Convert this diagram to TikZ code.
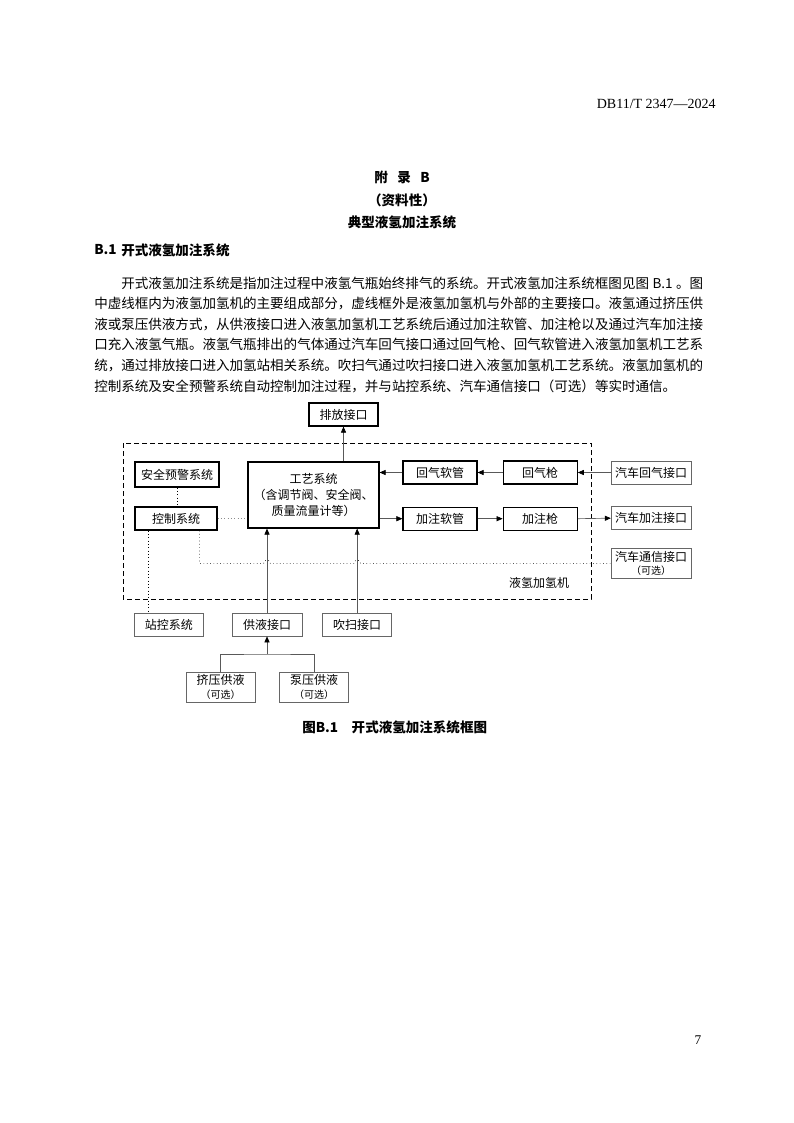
\documentclass[tikz,border=0pt]{standalone}
\usepackage{fontspec}
\setmainfont{Liberation Serif}
\newfontfamily\cjk{Noto Sans CJK SC}
\usetikzlibrary{arrows.meta,positioning}

\newcommand{\bodyfont}{\cjk\fontsize{10.15pt}{12pt}\selectfont}
\newcommand{\boxfont}{\cjk\fontsize{9pt}{12pt}\selectfont}
\newcommand{\optfont}{\cjk\fontsize{7.5pt}{9pt}\selectfont}

\begin{document}
\begin{tikzpicture}[x=0.75pt, y=-0.75pt,
  box/.style={draw, line width=0.9pt, font=\boxfont, inner sep=0pt,
              minimum height=17.25pt, align=center},
  ext/.style={draw=black!60, line width=0.5pt, font=\boxfont, inner sep=0pt,
              minimum height=17.25pt, align=center},
  ar/.style={-{Triangle[length=4.5pt,width=3.8pt,color=black]}, draw=black!65, line width=0.5pt},
  ctl/.style={dotted, line width=0.5pt},
  para/.style={font=\bodyfont, anchor=west, inner sep=0pt},
  hd/.style={font=\cjk\fontsize{10.15pt}{12pt}\selectfont\bfseries, inner sep=0pt}
]
  \useasboundingbox (0,0) rectangle (793,1123);

  % page head and title
  \node[font=\fontsize{10.5pt}{12pt}\selectfont, anchor=east, inner sep=0pt] (std) at (716,104) {DB11/T 2347—2024};
  \node[hd] (app) at (402,177) {附\hspace{0.7em}录\hspace{0.7em}B};
  \node[hd] (inf) at (402,200) {（资料性）};
  \node[hd] (ttl) at (402,222) {典型液氢加注系统};
  \node[hd, anchor=west] (secno) at (94,250) {B.1};
  \node[hd, anchor=west] (sec) at (121,250) {开式液氢加注系统};

  % body text
  \node[para] (l1) at (121,283) {开式液氢加注系统是指加注过程中液氢气瓶始终排气的系统。开式液氢加注系统框图见图\makebox[2em]{B.1}。图};
  \node[para] (l2) at (94,303.6) {中虚线框内为液氢加氢机的主要组成部分，虚线框外是液氢加氢机与外部的主要接口。液氢通过挤压供};
  \node[para] (l3) at (94,324.2) {液或泵压供液方式，从供液接口进入液氢加氢机工艺系统后通过加注软管、加注枪以及通过汽车加注接};
  \node[para] (l4) at (94,344.8) {口充入液氢气瓶。液氢气瓶排出的气体通过汽车回气接口通过回气枪、回气软管进入液氢加氢机工艺系};
  \node[para] (l5) at (94,365.4) {统，通过排放接口进入加氢站相关系统。吹扫气通过吹扫接口进入液氢加氢机工艺系统。液氢加氢机的};
  \node[para] (l6) at (94,386) {控制系统及安全预警系统自动控制加注过程，并与站控系统、汽车通信接口（可选）等实时通信。};

  % dispenser frame
  \draw[dash pattern=on 3.5pt off 2.5pt, line width=0.6pt] (123,443) rectangle (591,599);
  \node[font=\boxfont, inner sep=0pt] (lbl) at (539,583) {液氢加氢机};

  % blocks
  \node[box, minimum width=51.75pt] (pf) at (343.5,414.5) {排放接口};
  \node[box, minimum width=63pt, minimum height=18.75pt] (aq) at (177,474.5) {安全预警系统};
  \node[box, minimum width=61.5pt] (kz) at (176,518.5) {控制系统};
  \node[box, minimum width=98.25pt, minimum height=49.5pt] (gy) at (313.5,495)
    {工艺系统\\（含调节阀、安全阀、\\质量流量计等）};
  \node[box, minimum width=55.5pt] (hgrg) at (440,472.5) {回气软管};
  \node[box, minimum width=55.5pt, right=18.75pt of hgrg] (hgq) {回气枪};
  \node[ext, minimum width=60pt, right=24.75pt of hgq] (qhg) {汽车回气接口};
  \node[box, minimum width=55.5pt, below=16.5pt of hgrg] (jzrg) {加注软管};
  \node[box, minimum width=55.5pt, below=16.5pt of hgq] (jzq) {加注枪};
  \node[ext, minimum width=60pt, below=16.5pt of qhg] (qjz) {汽车加注接口};
  \node[ext, minimum width=60pt, minimum height=22.5pt, below=13.5pt of qjz] (qtx)
    {汽车通信接口\\[-2pt]{\optfont（可选）}};
  \node[ext, minimum width=52.5pt] (gyjk) at (267,624.5) {供液接口};
  \node[ext, minimum width=51.75pt, left=21pt of gyjk] (zk) {站控系统};
  \node[ext, minimum width=51.75pt, right=15pt of gyjk] (cs) {吹扫接口};
  \node[ext, minimum width=52pt, minimum height=22.5pt] (jy) at (220.5,687)
    {挤压供液\\[-2pt]{\optfont（可选）}};
  \node[ext, minimum width=52pt, minimum height=22.5pt] (by) at (314,687)
    {泵压供液\\[-2pt]{\optfont（可选）}};
  \coordinate (tee) at (267,654);

  % flows
  \draw[ar] (gy.north -| pf.south) -- (pf.south);
  \draw[ar] (qhg.west) -- (hgq.east);
  \draw[ar] (hgq.west) -- (hgrg.east);
  \draw[ar] (hgrg.west) -- (hgrg.west -| gy.east);
  \draw[ar] (gy.east |- jzrg.west) -- (jzrg.west);
  \draw[ar] (jzrg.east) -- (jzq.west);
  \draw[ar] (jzq.east) -- (qjz.west);
  \draw[ar] (gyjk.north) -- (gyjk.north |- gy.south);
  \draw[ar] (cs.north) -- (cs.north |- gy.south);
  \draw[draw=black!65, line width=0.5pt] (jy.north) |- (tee) -| (by.north);
  \draw[ar] (tee) -- (gyjk.south);

  % signals
  \draw[ctl] (aq.south) -- (aq.south |- kz.north);
  \draw[ctl, black!45] (kz.east) -- (kz.east -| gy.west);
  \draw[ctl] ([xshift=10.5pt]kz.south west) -- ([xshift=10.5pt]kz.south west |- zk.north);
  \draw[ctl] ([xshift=-13.5pt]kz.south east) |- ([xshift=-2.5pt]gyjk.north |- qtx.west)
    arc[start angle=180, end angle=0, radius=2.5pt]
    -- ([xshift=-2.5pt]cs.north |- qtx.west)
    arc[start angle=180, end angle=0, radius=2.5pt] -- (qtx.west);

  % caption and page number
  \node[hd, anchor=west] (cap) at (302,727) {图B.1\hspace{1em}开式液氢加注系统框图};
  \node[font=\fontsize{10pt}{12pt}\selectfont, inner sep=0pt] (pg) at (698,1040) {7};
\end{tikzpicture}
\end{document}
